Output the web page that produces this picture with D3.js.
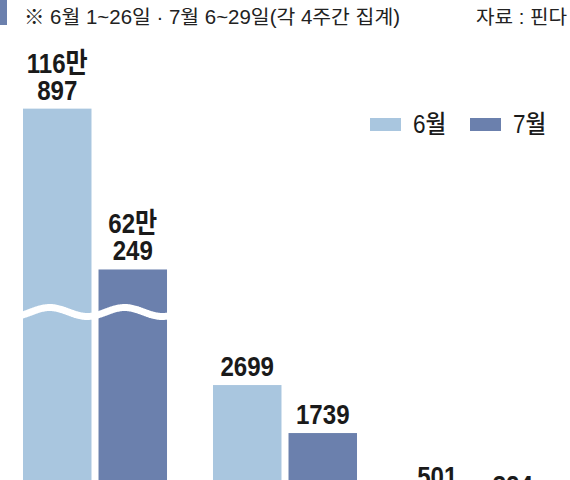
<!DOCTYPE html>
<html>
<head>
<meta charset="utf-8">
<script src="https://cdn.jsdelivr.net/npm/d3@7"></script>
<style>
body { margin: 0; background: #fff; overflow: hidden; }
</style>
</head>
<body>
<svg id="chart"></svg>
<script>
var width = 570, height = 480

// data (category names sit below the cropped area of the picture)
var categories = ["항목1", "항목2", "항목3"]
var months = ["6월", "7월"]
var june = [1160897, 2699, 501]
var july = [620249, 1739, 324]
var note = "※ 6월 1~26일 · 7월 6~29일(각 4주간 집계)"
var source = "자료 : 핀다"

var colors = { "6월": "#a9c6df", "7월": "#6b80ad" }
var breakAt = 3000   // values above this are drawn on the broken scale

var svg = d3.select("#chart")
    .attr("width", width)
    .attr("height", height)
    .style("background", "#fff")

var rows = []
categories.forEach(function(c, i) {
    rows.push({ cat: c, month: "6월", value: june[i] })
    rows.push({ cat: c, month: "7월", value: july[i] })
})

var x0 = d3.scaleBand()
    .domain(categories)
    .range([23, 547])
    .paddingInner(0.242)
var x1 = d3.scaleBand()
    .domain(months)
    .range([0, x0.bandwidth()])
    .paddingInner(0.093)

var baseline = 520
var yLow = d3.scaleLinear().domain([0, breakAt]).range([baseline, 370])
var yHigh = d3.scaleLinear().domain([0, 1200000]).range([454, 97])
function yOf(v) { return v > breakAt ? yHigh(v) : yLow(v) }

function fmt(v) {
    if (v >= 10000) return [Math.floor(v / 10000) + "만", String(v % 10000)]
    return [String(v)]
}

// header
svg.append("rect")
    .attr("x", 0).attr("y", 0)
    .attr("width", 7).attr("height", 25)
    .attr("fill", "#6b80ad")
svg.append("text")
    .attr("x", 24).attr("y", 24)
    .attr("font-family", "'Liberation Sans', 'Noto Sans CJK KR', sans-serif")
    .attr("font-size", 19.5)
    .attr("fill", "#222")
    .attr("textLength", 376)
    .attr("lengthAdjust", "spacingAndGlyphs")
    .text(note)
svg.append("text")
    .attr("x", 567).attr("y", 24)
    .attr("text-anchor", "end")
    .attr("font-family", "'Liberation Sans', 'Noto Sans CJK KR', sans-serif")
    .attr("font-size", 19.5)
    .attr("fill", "#222")
    .attr("textLength", 91)
    .attr("lengthAdjust", "spacingAndGlyphs")
    .text(source)

// bars
var g = svg.append("g")
g.selectAll("rect.bar")
    .data(rows)
    .enter()
    .append("rect")
        .attr("class", "bar")
        .attr("x", function(d) { return x0(d.cat) + x1(d.month) })
        .attr("y", function(d) { return yOf(d.value) })
        .attr("width", x1.bandwidth())
        .attr("height", function(d) { return baseline - yOf(d.value) })
        .attr("fill", function(d) { return colors[d.month] })

// wavy break over the bars that are cut
var broken = rows.filter(function(d) { return d.value > breakAt })
var bx0 = d3.min(broken, function(d) { return x0(d.cat) + x1(d.month) }) - 2
var bx1 = d3.max(broken, function(d) { return x0(d.cat) + x1(d.month) + x1.bandwidth() }) + 2
var wave = d3.range(bx0, bx1 + 1, 1).map(function(x) {
    return [x, 312 - 4.5 * Math.sin(2 * Math.PI * (x - 31) / 75)]
})
g.append("path")
    .datum(wave)
    .attr("d", d3.line().curve(d3.curveBasis))
    .attr("fill", "none")
    .attr("stroke", "#fff")
    .attr("stroke-width", 7)

// value labels
var labels = g.selectAll("text.val")
    .data(rows)
    .enter()
    .append("text")
        .attr("class", "val")
        .attr("text-anchor", "middle")
        .attr("font-family", "'Liberation Sans', 'Noto Sans CJK KR', sans-serif")
        .attr("font-weight", "bold")
        .attr("font-size", 28)
        .attr("fill", "#1a1a1a")
labels.each(function(d) {
    var lines = fmt(d.value)
    var cx = x0(d.cat) + x1(d.month) + x1.bandwidth() / 2
    var yb = yOf(d.value) - 9
    var t = d3.select(this)
    lines.forEach(function(s, i) {
        var ts = t.append("tspan")
            .attr("x", cx)
            .attr("y", yb - (lines.length - 1 - i) * 27)
            .text(s)
        var w = ts.node().getComputedTextLength()
        ts.attr("textLength", w * 0.86).attr("lengthAdjust", "spacingAndGlyphs")
    })
})

// legend
var legend = svg.append("g")
    .selectAll("g")
    .data(months)
    .enter()
    .append("g")
        .attr("transform", function(d, i) { return "translate(" + (370 + i * 100) + ",0)" })
legend.append("rect")
    .attr("x", 0).attr("y", 118)
    .attr("width", 31).attr("height", 13)
    .attr("fill", function(d) { return colors[d] })
legend.append("text")
    .attr("x", 43).attr("y", 133)
    .attr("font-family", "'Liberation Sans', 'Noto Sans CJK KR', sans-serif")
    .attr("font-weight", 500)
    .attr("font-size", 25)
    .attr("fill", "#1a1a1a")
    .text(function(d) { return d })
    .each(function() {
        var w = this.getComputedTextLength()
        d3.select(this).attr("textLength", w * 0.9).attr("lengthAdjust", "spacingAndGlyphs")
    })
</script>
</body>
</html>
